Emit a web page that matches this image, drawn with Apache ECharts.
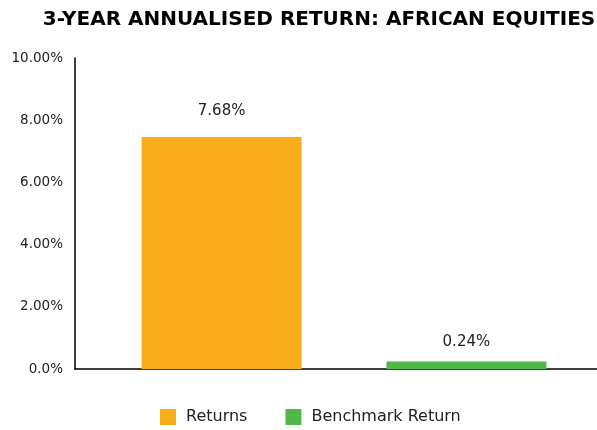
<!DOCTYPE html>
<html><head><meta charset="utf-8">
<script src="https://cdn.jsdelivr.net/npm/echarts@6/dist/echarts.min.js"></script>
<style>html,body{margin:0;padding:0;background:#fff}#c{width:597px;height:430px}</style>
</head><body><div id="c"></div>
<script>
const titleText = '3-YEAR ANNUALISED RETURN: AFRICAN EQUITIES';
const seriesNames = ['Returns', 'Benchmark Return'];
const seriesValues = [7.46, 0.24];
const valueLabels = ['7.68%', '0.24%'];
const seriesColors = ['#F9AD1A', '#4FB849'];
const yTicks = [0, 2, 4, 6, 8, 10];
const yTickLabels = ['0.0%', '2.00%', '4.00%', '6.00%', '8.00%', '10.00%'];
const labelDistances = [18, 12];

const FONT = 'DejaVu Sans';
const chart = echarts.init(document.getElementById('c'), null, {renderer: 'canvas'});
chart.setOption({
  animation: false,
  title: {
    text: titleText, left: 314, top: 5, textAlign: 'center',
    textStyle: {fontFamily: FONT, fontWeight: 'bold', fontSize: 20, color: '#000'}
  },
  legend: {
    bottom: 0, left: 155, itemWidth: 16, itemHeight: 16, itemGap: 38,
    icon: 'rect',
    textStyle: {fontFamily: FONT, fontSize: 16, color: '#222', padding: [0, 0, 0, 5]},
    data: seriesNames
  },
  grid: {left: 75, width: 538, top: 58, bottom: 61, containLabel: false, outerBoundsMode: 'none'},
  xAxis: {
    type: 'category', data: [''],
    axisLine: {lineStyle: {color: '#000', width: 1.5}},
    axisTick: {show: false}, axisLabel: {show: false}
  },
  yAxis: {
    type: 'value', min: 0, max: 10, interval: 2,
    axisLine: {show: true, lineStyle: {color: '#000', width: 1.5}},
    axisTick: {show: false}, splitLine: {show: false},
    axisLabel: {
      margin: 12, fontFamily: FONT, fontSize: 13.5, color: '#222',
      formatter: v => yTickLabels[yTicks.indexOf(v)]
    }
  },
  series: seriesNames.map((name, i) => ({
    name, type: 'bar', barWidth: 160, barGap: '53%',
    itemStyle: {color: seriesColors[i]},
    label: {
      show: true, position: 'top', distance: labelDistances[i],
      fontFamily: FONT, fontSize: 15, color: '#222',
      formatter: () => valueLabels[i]
    },
    data: [seriesValues[i]]
  }))
});
</script></body></html>
